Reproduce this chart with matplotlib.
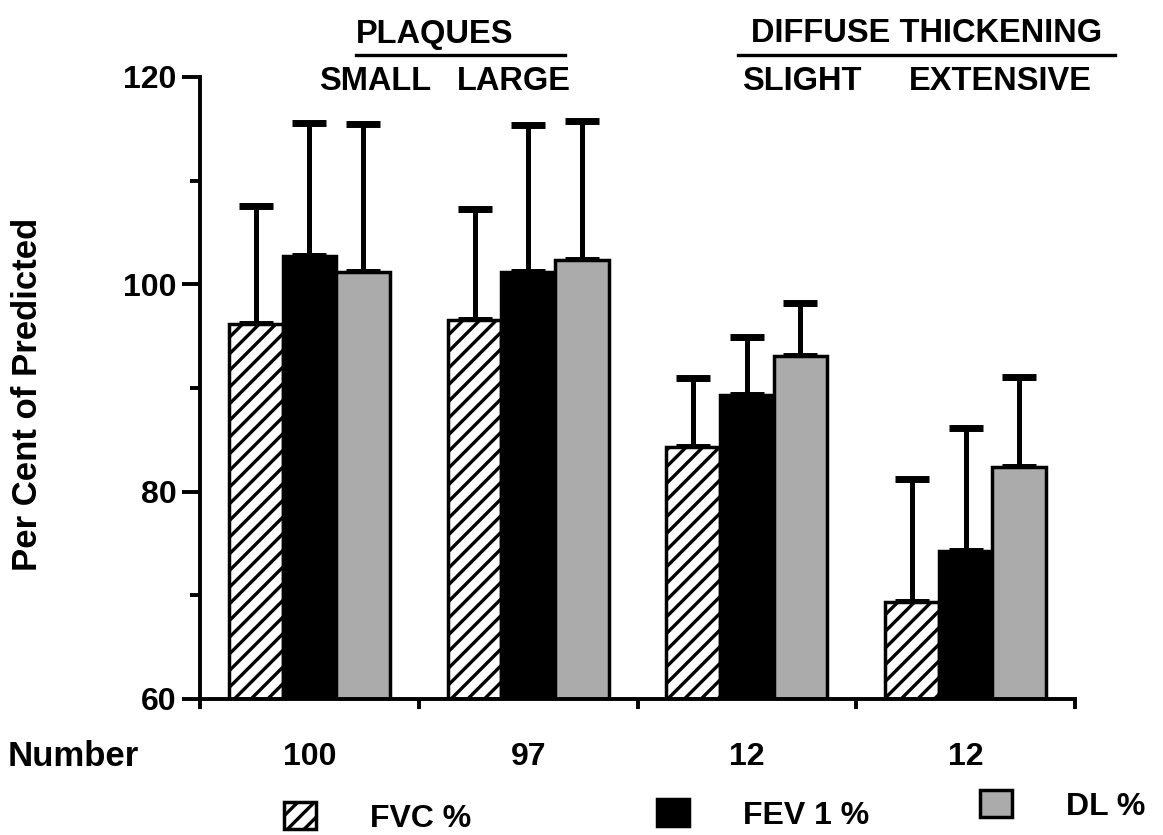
import matplotlib
matplotlib.use('Agg')
import numpy as np
from matplotlib import pyplot as plt
from matplotlib.lines import Line2D
from matplotlib.patches import Patch
from matplotlib.ticker import MultipleLocator, FixedLocator

plt.rcParams['font.family'] = ['Liberation Sans', 'DejaVu Sans']
plt.rcParams['font.weight'] = 'bold'
plt.rcParams['axes.labelweight'] = 'bold'
plt.rcParams['hatch.linewidth'] = 2.4

# data
groups = ['SMALL', 'LARGE', 'SLIGHT', 'EXTENSIVE']
numbers = ['100', '97', '12', '12']
series = ['FVC %', 'FEV 1 %', 'DL %']
fvc = [96.2, 96.6, 84.3, 69.4]
fev1 = [102.7, 101.2, 89.3, 74.3]
dl = [101.2, 102.3, 93.1, 82.4]
fvc_sd = [11.4, 10.7, 6.7, 11.8]
fev1_sd = [12.9, 14.2, 5.6, 11.8]
dl_sd = [14.3, 13.5, 5.1, 8.7]

W, H = 1163, 835
fig = plt.figure(figsize=(W / 100, H / 100), dpi=100)
ax = fig.add_axes([200 / W, 1 - 699 / H, 875 / W, 622 / H])

x = np.arange(len(groups))
width = 0.245
styles = [dict(facecolor='white', hatch='//'),
          dict(facecolor='black'),
          dict(facecolor='#ababab')]
values = [fvc, fev1, dl]
sds = [fvc_sd, fev1_sd, dl_sd]

for i, (vals, sd, st) in enumerate(zip(values, sds, styles)):
    pos = x + (i - 1) * width
    ax.bar(pos, np.array(vals) - 60, width=width, bottom=60, edgecolor='black',
           linewidth=2.5, zorder=2, **st)
    ax.errorbar(pos, vals, yerr=[np.zeros(len(vals)), sd], fmt='none', ecolor='black',
                elinewidth=3.6, capsize=12, capthick=5, zorder=1)

ax.set_xlim(-0.5, 3.5)
ax.set_ylim(60, 120)
for s in ['top', 'right']:
    ax.spines[s].set_visible(False)
for s in ['left', 'bottom']:
    ax.spines[s].set_linewidth(2.8)

ax.yaxis.set_major_locator(MultipleLocator(20))
ax.yaxis.set_minor_locator(MultipleLocator(10))
ax.tick_params(axis='y', which='major', length=13, width=2.8, labelsize=23, pad=4)
ax.tick_params(axis='y', which='minor', length=7, width=2.8)
ax.xaxis.set_major_locator(FixedLocator([-0.5, 0.5, 1.5, 2.5, 3.5]))
ax.tick_params(axis='x', which='major', length=7, width=2.8, labelbottom=False)

ax.set_ylabel('Per Cent of Predicted', fontsize=25, fontweight='bold')
ax.yaxis.set_label_coords(-0.178, 0.49)

# counts under each group
trans = ax.get_xaxis_transform()
for xi, n in zip(x, numbers):
    ax.text(xi, -0.093, n, transform=trans, ha='center', va='center', fontsize=23)
fig.text(8 / W, 1 - 757 / H, 'Number', ha='left', va='center', fontsize=25)

# headings
fig.text(435 / W, 1 - 34 / H, 'PLAQUES', ha='center', va='center', fontsize=23.5)
fig.text(927 / W, 1 - 33 / H, 'DIFFUSE THICKENING', ha='center', va='center', fontsize=23.5)
fig.add_artist(Line2D([356 / W, 565 / W], [1 - 55 / H] * 2, color='black', lw=2.4))
fig.add_artist(Line2D([738 / W, 1115 / W], [1 - 55 / H] * 2, color='black', lw=2.4))
for cx, g in zip([375, 514, 802, 1000], groups):
    fig.text(cx / W, 1 - 82 / H, g, ha='center', va='center', fontsize=23.5)

# legend, three separate entries
legend_pos = [(284, 818), (657, 815), (980, 806)]
for (lx, ly), name, st in zip(legend_pos, series, styles):
    h = Patch(edgecolor='black', linewidth=2.5, **st)
    fig.legend([h], [name], loc='center left', bbox_to_anchor=(lx / W, 1 - ly / H),
               frameon=False, fontsize=23, handlelength=1.0, handleheight=0.9,
               handletextpad=1.7, borderpad=0, borderaxespad=0)

fig.savefig('out.png', dpi=100)
